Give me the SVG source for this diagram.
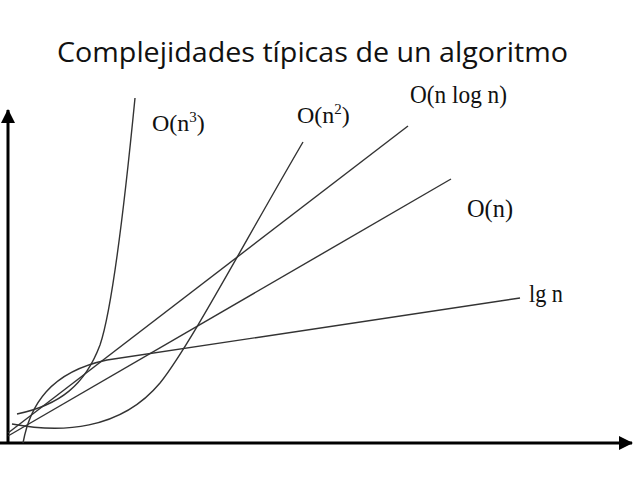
<svg xmlns="http://www.w3.org/2000/svg" width="640" height="480" viewBox="0 0 640 480">
<style>
.title{font-family:"Open Sans","Noto Sans","Liberation Sans",sans-serif;font-size:27px;fill:#111}
.lbl{font-family:"Liberation Serif","Times New Roman",serif;font-size:26px;fill:#111}
.lbs{font-family:"Liberation Serif","Times New Roman",serif;font-size:24px;fill:#111}
.sup{font-size:15px}
.axis{stroke:#000;stroke-width:3;fill:none}
.curve{stroke:#333;stroke-width:1.4;fill:none}
</style>
<defs>
<marker id="arr" markerWidth="16" markerHeight="16" refX="13" refY="7" orient="auto" markerUnits="userSpaceOnUse">
<path d="M0,0 L14,7 L0,14 Z" fill="#000"/>
</marker>
</defs>
<rect width="640" height="480" fill="#fff"/>
<text class="title" x="57" y="62" textLength="511" lengthAdjust="spacingAndGlyphs">Complejidades típicas de un algoritmo</text>
<g id="axes">
<line class="axis" x1="8" y1="444" x2="8" y2="110" marker-end="url(#arr)"/>
<line class="axis" x1="0" y1="443" x2="632" y2="443" marker-end="url(#arr)"/>
</g>
<g id="connectors">
<path id="c-n3" class="curve" d="M17,414 C60,405 85,385 100,345 C112,310 125,200 135,98"/>
<path id="c-n2" class="curve" d="M12,424 C60,433 120,431 160,383 C190,345 240,250 303,142"/>
<path id="c-nlogn" class="curve" d="M8,433 L408,126"/>
<path id="c-n" class="curve" d="M8,436 L451,179"/>
<path id="c-lgn" class="curve" d="M23,443 C30,405 50,372 107,360 L520,298"/>
</g>
<g id="label-n3"><text class="lbs" x="152" y="131">O(n<tspan class="sup" baseline-shift="9">3</tspan>)</text></g>
<g id="label-n2"><text class="lbs" x="297" y="123">O(n<tspan class="sup" baseline-shift="9">2</tspan>)</text></g>
<g id="label-nlogn"><text class="lbl" x="410" y="103" textLength="97" lengthAdjust="spacingAndGlyphs">O(n log n)</text></g>
<g id="label-n"><text class="lbl" x="467" y="217" textLength="46" lengthAdjust="spacingAndGlyphs">O(n)</text></g>
<g id="label-lgn"><text class="lbl" x="529" y="302" textLength="34" lengthAdjust="spacingAndGlyphs">lg n</text></g>
</svg>
